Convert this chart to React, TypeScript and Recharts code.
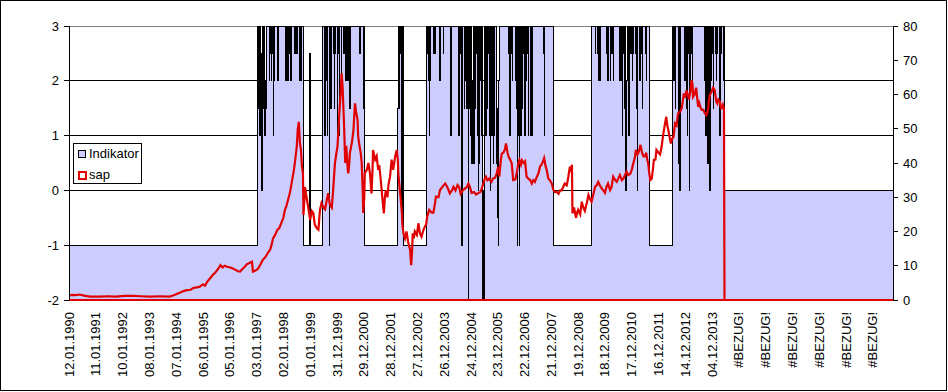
import React from 'react';
import { ComposedChart, Area, Line, XAxis, YAxis, CartesianGrid } from 'recharts';

// category labels, one every 52 weekly categories
const xLabels: string[] = [
  '12.01.1990', '11.01.1991', '10.01.1992', '08.01.1993', '07.01.1994', '06.01.1995',
  '05.01.1996', '03.01.1997', '02.01.1998', '01.01.1999', '31.12.1999', '29.12.2000',
  '28.12.2001', '27.12.2002', '26.12.2003', '24.12.2004', '23.12.2005', '22.12.2006',
  '21.12.2007', '19.12.2008', '18.12.2009', '17.12.2010', '16.12.2011', '14.12.2012',
  '04.12.2013', '#BEZUG!', '#BEZUG!', '#BEZUG!', '#BEZUG!', '#BEZUG!', '#BEZUG!',
];
const weeksPerLabel = 52;
const lastWeek = 1599;

const leftTicks = [-2, -1, 0, 1, 2, 3];
const rightTicks = [0, 10, 20, 30, 40, 50, 60, 70, 80];

// Indikator: [week index, value] change points (step series)
const indikatorSteps: [number, number][] = [
  [0, -1], [365, 3], [367, 1.5], [368, 3], [369, 2], [370, 1], [371, 3], [372, 2.5], [374, 0], [375, 3],
  [376, 2], [377, 3], [378, 1.5], [379, 3], [380, 1], [381, 2], [382, 1.5], [383, 2], [384, 3], [389, 2],
  [390, 2.5], [391, 3], [392, 2], [393, 3], [394, 2.5], [395, 3], [396, 1], [397, 3], [398, 2], [399, 3],
  [404, 2.5], [405, 2], [406, 3], [421, 2], [422, 2.5], [423, 3], [424, 2], [425, 3], [426, 2.5], [427, 3],
  [430, 2], [431, 3], [438, 2.5], [439, 3], [442, 2.5], [443, 3], [447, 2], [448, 3], [450, 2], [451, 3],
  [455, -1], [466, 2.5], [468, -1],
  [492, 3], [495, 1], [496, 3], [497, 1], [498, 3], [499, 2], [500, 3], [501, 1], [502, 3], [505, -1],
  [506, 2], [507, 3], [508, 1.5], [509, 3], [513, 2.5], [514, 3], [515, 1.5], [516, 3], [517, 2.5], [518, 3],
  [521, 1], [522, 2.5], [523, 3], [524, 1], [525, 3], [528, 2], [529, 3], [533, 2.5], [534, 3], [537, 2],
  [538, 3], [539, 2.5], [540, 3], [541, 2], [542, 3], [545, 1.5], [546, 3], [564, 2.5], [565, 3], [571, 1.5],
  [572, 3], [574, -1],
  [637, 1.5], [639, 3], [641, 1.5], [642, 2.5], [643, 3], [645, 2.5], [646, -0.5], [647, 3], [649, -1],
  [694, 3], [695, 2.5], [696, 3], [698, 2], [699, 1], [700, 3], [701, 2], [702, 3], [707, 2.5], [708, 3],
  [710, 2.5], [711, 3], [719, 2], [720, 3], [726, 2.5], [727, 3], [741, 1], [742, 3], [756, 1], [757, 3],
  [759, 2.5], [760, 3], [762, -1], [763, 2], [764, 3], [767, 1.5], [768, 3], [769, 2], [770, 3], [772, 1.5],
  [773, 3], [775, -2], [776, 2.5], [777, 3], [778, 1.5], [779, 3], [780, 1], [781, 3], [782, 0.5], [783, 2],
  [784, 3], [785, 0.5], [786, 3], [787, 1.5], [788, 3], [791, 2.5], [792, 3], [793, 1], [794, 0], [795, 3],
  [796, 0.5], [797, 3], [798, 2], [799, 3], [800, 1], [801, 3], [802, 0.5], [803, -2], [804, 0], [805, -2],
  [806, 0.5], [807, 3], [809, 1], [810, 3], [811, 2], [812, 1.5], [813, 3], [814, 2.5], [815, 3], [816, 1],
  [817, 0], [818, 3], [819, 1.5], [820, 1], [821, 3], [822, 2.5], [823, 0.5], [824, 3], [825, 1], [826, 3],
  [829, 1.5], [830, 0.5], [831, -0.5], [832, 1.5], [833, -1], [834, 2], [835, 3], [853, 2.5], [854, 3], [855, 1],
  [856, 3], [857, 2.5], [858, 3], [860, 2], [861, 3], [866, 2.5], [867, 2], [868, 3], [869, 1.5], [870, -1],
  [871, 3], [872, 1], [873, 3], [874, -1], [875, 2], [876, 3], [877, 1], [878, 3], [879, 2], [880, 1.5],
  [881, 3], [882, 2.5], [883, 3], [884, 1], [885, 3], [886, 2], [887, 3], [889, 2.5], [890, 3], [891, 1],
  [892, 3], [895, 1], [896, 2.5], [897, 3], [898, 1], [899, 3], [921, 2.5], [922, 1], [923, 3], [940, -1],
  [1014, 3], [1021, 2.5], [1022, 3], [1025, 2.5], [1026, 3], [1027, 2], [1028, 3], [1030, 2], [1031, 3],
  [1043, 2.5], [1044, 3], [1045, 2], [1046, 3],
  [1050, 2], [1051, 3], [1053, 2.5], [1054, 3], [1056, 2], [1057, 3], [1068, 2], [1069, 3], [1071, 2], [1072, 3],
  [1074, 1], [1075, 3], [1076, 2.5], [1077, 3], [1078, 1.5], [1079, 3], [1080, 0], [1081, 1], [1082, 2], [1083, 3],
  [1086, 1], [1087, 3], [1090, 2.5], [1091, 3], [1093, 2], [1094, 3], [1095, 2.5], [1096, 3], [1100, 2.5], [1101, 3],
  [1102, 1.5], [1103, 0], [1104, 3], [1108, 2], [1109, 3], [1110, 2.5], [1111, 3], [1112, 1.5], [1113, 3],
  [1118, 2.5], [1119, 3], [1120, 2], [1121, 3], [1126, -1],
  [1171, 3], [1172, 2.5], [1173, 3], [1174, 2], [1175, 3], [1176, 1.5], [1177, 3], [1183, 0.5], [1184, 3],
  [1185, 0], [1186, 1], [1187, 3], [1195, 2], [1196, 3], [1197, 2.5], [1198, 3], [1199, 1.5], [1200, 1],
  [1201, 3], [1202, 2.5], [1203, 3], [1204, 0], [1205, 2], [1206, 3], [1207, 2.5], [1208, 3], [1209, 2],
  [1210, 3], [1234, 2], [1235, 3], [1236, 1], [1237, 3], [1238, 1.5], [1239, 3], [1240, 0.5], [1241, 3],
  [1243, 0], [1244, 1], [1245, 3], [1246, 2], [1247, 3], [1248, 2.5], [1249, 3], [1250, 1.5], [1251, 3],
  [1254, 2.5], [1255, 3], [1256, 2], [1257, 3], [1258, 2.5], [1259, 3], [1263, 1], [1264, 3], [1265, 2.5],
  [1266, 3], [1270, 2], [1271, 3], [1272, 0], [1599, 0],
];

// sap: [week index, value]
const sapPoints: [number, number][] = [
  [0, 1.3], [6, 1.5], [12, 1.4], [21, 1.6], [29, 1.3], [41, 1.0], [60, 1.0], [75, 1.1], [89, 1.0], [109, 1.2],
  [125, 1.2], [138, 1.1], [157, 1.0], [177, 1.1], [195, 1.0], [202, 1.3], [210, 1.8], [215, 2.1], [222, 2.6],
  [229, 2.9], [236, 3.0], [241, 3.5], [248, 3.7], [254, 3.9], [260, 4.6], [264, 4.2], [268, 5.3], [273, 6.2],
  [279, 7.3], [284, 8.0], [290, 9.2], [294, 10.2], [298, 9.5], [302, 10.0], [307, 9.7], [313, 9.5], [318, 9.2],
  [323, 8.8], [328, 8.4], [332, 8.3], [336, 9.0], [341, 9.7], [345, 10.4], [350, 10.8], [355, 11.2], [357, 8.3],
  [362, 8.6], [367, 9.2], [372, 10.5], [376, 11.7], [381, 12.5], [386, 13.8], [390, 14.6], [393, 16.0],
  [396, 18.0], [400, 19.0], [404, 20.4], [408, 21.0], [413, 22.9], [416, 24.0], [419, 26.3], [422, 27.5],
  [425, 29.2], [429, 31.5], [433, 35.0], [436, 37.5], [439, 40.9], [442, 44.8],
  [444, 50], [446, 52], [448, 46], [450, 44], [452, 39], [454, 37], [455, 24.8], [457, 30], [458, 33], [461, 30],
  [464, 27.3], [468, 23.4], [471, 26], [474, 25.4], [477, 22], [481, 20.9], [484, 20.5], [487, 26.3], [490, 28.3],
  [494, 27], [497, 26.5], [500, 29], [503, 31.2], [506, 28], [510, 27], [513, 33], [516, 39.9], [519, 43],
  [521, 44.8], [523, 50], [525, 55.5], [527, 60], [529, 66.2], [531, 62], [532, 58], [534, 50], [536, 40],
  [538, 45], [539, 42.8], [541, 38], [542, 37], [544, 40], [545, 42.8], [549, 46], [552, 49.6], [554, 55],
  [555, 57.4], [557, 55], [560, 52.6], [561, 48], [563, 45.7], [566, 43], [568, 40], [570, 32], [571, 25.4],
  [573, 30], [574, 37], [578, 38], [581, 40],
  [584, 37], [587, 31.1], [589, 38], [590, 43.8], [594, 41], [597, 42], [600, 38], [602, 39.4], [605, 35],
  [609, 28.3], [611, 25.3], [613, 30], [615, 32.1], [618, 30], [620, 33.7], [623, 36], [626, 41], [629, 38],
  [633, 42], [636, 43.8], [638, 41], [639, 37], [642, 32], [644, 29], [646, 25.3], [647, 22], [649, 19.5],
  [652, 18], [655, 20], [658, 17], [662, 14.6], [664, 10.2], [666, 15], [667, 19.5], [669, 18], [671, 20],
  [675, 19], [678, 22.4], [681, 19.5], [684, 18.5], [688, 20.5], [691, 21.5], [693, 22], [695, 24.3], [699, 26.3],
  [704, 25.5], [707, 25.5], [710, 28], [712, 30.2], [717, 30], [720, 32.1], [725, 33.1], [730, 34], [734, 33],
  [739, 31.1], [743, 32], [746, 33], [750, 32], [754, 33.6], [757, 33], [760, 31], [764, 32], [768, 32.5],
  [772, 33], [775, 34], [778, 33], [781, 31.3], [786, 31.5], [790, 30.8], [794, 31.2], [798, 31.5], [801, 32.5],
  [804, 34], [807, 35.5], [809, 36], [812, 35], [816, 35.5],
  [817, 35], [820, 34.5], [823, 35.5], [827, 35.7], [830, 37], [833, 38.9], [835, 36], [838, 41], [840, 42.8],
  [843, 43], [846, 44], [848, 45.7], [851, 43], [853, 41.9], [856, 41], [859, 40], [862, 35], [866, 35.2],
  [867, 35.7], [870, 38], [872, 40], [874, 40.9], [877, 39.5], [879, 40.8], [882, 40], [885, 40.5], [888, 36],
  [891, 35.5], [895, 35], [898, 34], [901, 35], [904, 34.5], [908, 36], [911, 37], [914, 39], [917, 39.5],
  [920, 40.5], [922, 41.4], [925, 39], [927, 38], [930, 35.5], [933, 35], [937, 34], [940, 32.1], [943, 31.5],
  [946, 31.6], [950, 31], [953, 32], [956, 32], [959, 33], [962, 34], [966, 33.5], [969, 36], [972, 38.9],
  [974, 38], [976, 39.5], [977, 25.3], [980, 27], [984, 24], [986, 25.5], [988, 26.3], [992, 25], [995, 28.7],
  [998, 27], [1001, 26], [1005, 28.5], [1008, 30.7], [1011, 29.5], [1014, 28.7], [1017, 30.5], [1021, 33.1],
  [1024, 33.5], [1027, 34.5], [1030, 33.5], [1034, 32.5], [1037, 32], [1040, 31.3], [1043, 33], [1046, 34],
  [1050, 32.1], [1053, 33], [1056, 36], [1060, 35], [1063, 34.5], [1066, 35.5], [1069, 36.5], [1073, 35],
  [1076, 35.5], [1079, 36.5], [1082, 37.5], [1085, 36.5], [1089, 36.8], [1092, 38], [1095, 39.9], [1098, 41.5],
  [1100, 43.8], [1103, 42.5], [1105, 43], [1107, 44], [1109, 45.3], [1112, 43], [1115, 41.9], [1118, 42],
  [1120, 43], [1122, 41], [1124, 39.9], [1126, 37], [1128, 35], [1131, 35.5], [1133, 38], [1135, 40.9],
  [1138, 41], [1140, 43.8], [1144, 43], [1147, 42.5], [1150, 44.8], [1153, 48.2], [1156, 51], [1159, 53.5],
  [1161, 51], [1163, 49.6], [1165, 48], [1168, 45.7], [1170, 47], [1173, 47.5], [1176, 51.6], [1179, 51],
  [1182, 54.5], [1186, 55], [1189, 56], [1191, 58], [1193, 60.3], [1196, 59], [1198, 61.2], [1201, 60],
  [1203, 58.5], [1206, 61], [1208, 64.2], [1210, 63], [1211, 59.3], [1214, 60], [1217, 62], [1219, 59],
  [1221, 56.4], [1223, 57.5], [1226, 56], [1228, 55.5], [1231, 55.5], [1234, 54.5], [1237, 54], [1240, 55.5],
  [1242, 58.4], [1244, 60], [1247, 60.8], [1250, 62], [1253, 61.3], [1256, 58], [1258, 57.4], [1260, 58.5],
  [1263, 58], [1265, 56], [1267, 56], [1269, 57], [1271, 56], [1272, 0], [1599, 0],
];

const indData = indikatorSteps.map(([w, v]) => ({ w, indikator: v }));
const sapData = sapPoints.map(([w, v]) => ({ w, sap: v }));
const xTicks = xLabels.map((_, i) => i * weeksPerLabel);

const FONT = '"Liberation Sans", Arial, sans-serif';
const RED = '#E00000';
const LAVENDER = '#CCCCFF';

const XTick = (props: any) => {
  const { x, y, payload } = props;
  const label = xLabels[Math.round(payload.value / weeksPerLabel)] ?? '';
  return (
    <text
      transform={`translate(${x},${y + 4}) rotate(-90)`}
      textAnchor="end"
      dy="0.35em"
      fontSize={13}
      fontFamily={FONT}
      fill="#000"
    >
      {label}
    </text>
  );
};

const gridLine = (p: any) => {
  const isTop = typeof p.y === 'number' && Math.abs(p.y1 - p.y) < 0.5;
  return (
    <line
      key={`g-${p.index}`}
      x1={p.x1}
      x2={p.x2}
      y1={p.y1}
      y2={p.y2}
      stroke={isTop ? '#808080' : '#000'}
      strokeWidth={1}
      shapeRendering="crispEdges"
    />
  );
};

export default function App() {
  return (
    <div style={{ position: 'absolute', left: 0, top: 0, width: 948, height: 392, background: '#fff' }}>
      <div
        style={{
          position: 'absolute', left: 0, top: 0, width: 947, height: 391,
          border: '1px solid #000', boxSizing: 'border-box',
        }}
      />
      <div style={{ position: 'absolute', left: 0, top: 0 }}>
        <ComposedChart width={948} height={392} margin={{ top: 26, right: 15, bottom: 12, left: 9 }}>
          <CartesianGrid yAxisId="left" vertical={false} horizontal={gridLine} />
          <XAxis
            type="number"
            dataKey="w"
            domain={[0, lastWeek]}
            ticks={xTicks}
            interval={0}
            allowDataOverflow
            height={80}
            axisLine={{ stroke: RED, strokeWidth: 2, shapeRendering: 'crispEdges' }}
            tickLine={false}
            tick={XTick}
          />
          <YAxis
            yAxisId="left"
            domain={[-2, 3]}
            ticks={leftTicks}
            interval={0}
            width={60}
            tickSize={5}
            tickMargin={5}
            axisLine={{ stroke: '#000', shapeRendering: 'crispEdges' }}
            tickLine={{ stroke: '#000', shapeRendering: 'crispEdges' }}
            tick={{ fill: '#000', fontSize: 13, fontFamily: FONT }}
          />
          <YAxis
            yAxisId="right"
            orientation="right"
            domain={[0, 80]}
            ticks={rightTicks}
            interval={0}
            width={40}
            tickSize={5}
            tickMargin={5}
            axisLine={{ stroke: '#000', shapeRendering: 'crispEdges' }}
            tickLine={{ stroke: '#000', shapeRendering: 'crispEdges' }}
            tick={{ fill: '#000', fontSize: 13, fontFamily: FONT }}
          />
          <Area
            yAxisId="left"
            data={indData}
            dataKey="indikator"
            name="Indikator"
            type="stepAfter"
            baseValue={-2}
            fill={LAVENDER}
            fillOpacity={1}
            stroke="#000"
            strokeWidth={1}
            shapeRendering="crispEdges"
            dot={false}
            activeDot={false}
            isAnimationActive={false}
          />
          <Line
            yAxisId="right"
            data={sapData}
            dataKey="sap"
            name="sap"
            type="linear"
            stroke={RED}
            strokeWidth={2.2}
            dot={false}
            activeDot={false}
            isAnimationActive={false}
          />
        </ComposedChart>
      </div>
      <div
        style={{
          position: 'absolute', left: 73, top: 143, width: 69, height: 41,
          border: '1px solid #000', boxSizing: 'border-box', background: '#fff',
          fontFamily: FONT, fontSize: 13, color: '#000',
        }}
      >
        <div style={{ position: 'absolute', left: 4, top: 6, width: 8, height: 8, background: LAVENDER, border: '1px solid #000', boxSizing: 'border-box' }} />
        <div style={{ position: 'absolute', left: 15, top: 2, lineHeight: '15px' }}>Indikator</div>
        <div style={{ position: 'absolute', left: 4, top: 27, width: 9, height: 9, background: '#fff', border: `2px solid ${RED}`, boxSizing: 'border-box' }} />
        <div style={{ position: 'absolute', left: 15, top: 23, lineHeight: '15px' }}>sap</div>
      </div>
    </div>
  );
}
